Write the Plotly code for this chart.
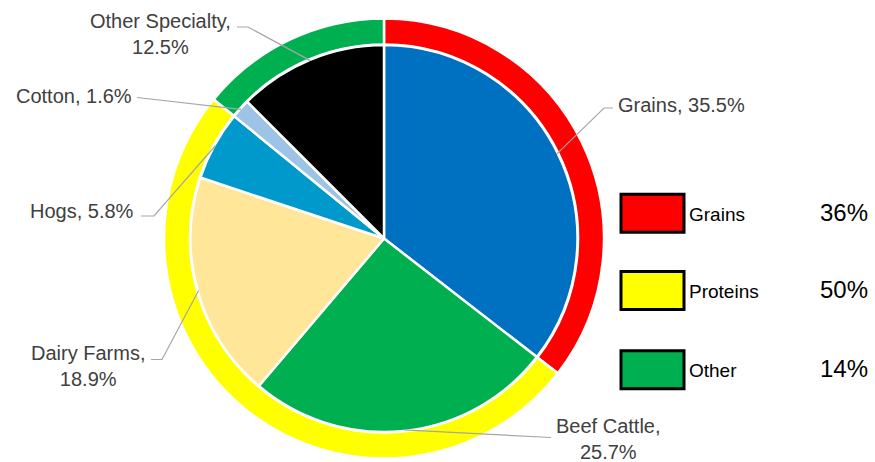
import math
import plotly.graph_objects as go

# ---- data -------------------------------------------------------------
sectors = ["Grains", "Beef Cattle", "Dairy Farms", "Hogs", "Cotton", "Other Specialty"]
shares = [35.5, 25.7, 18.9, 5.8, 1.6, 12.5]
sector_colors = ["#0070C0", "#00B050", "#FFE699", "#0099CC", "#9DC3E6", "#000000"]

groups = ["Grains", "Proteins", "Other"]
group_members = [["Grains"], ["Beef Cattle", "Dairy Farms", "Hogs"], ["Cotton", "Other Specialty"]]
group_colors = ["#FF0000", "#FFFF00", "#00B050"]
group_shares = [round(sum(shares[sectors.index(m)] for m in members), 1)
                for members in group_members]

# ---- layout constants (pixels) -----------------------------------------
W, H = 875, 462
CX, CY = 384, 238.5
R_RING = 220          # outer edge of the group ring
R_HOLE = 194          # inner edge of the group ring
R_PIE = 193.5         # sector pie radius
LABEL_FONT = dict(family="Liberation Sans, Arial, sans-serif", size=20, color="#404040")
LEADER_COLOR = "#A6A6A6"


def px(x):
    return x / W


def py(y):
    return 1 - y / H


def domain(r):
    return dict(x=[px(CX - r), px(CX + r)], y=[py(CY + r), py(CY - r)])


fig = go.Figure()

# outer ring: groups
fig.add_trace(go.Pie(
    labels=groups, values=group_shares, sort=False, direction="clockwise", rotation=0,
    hole=R_HOLE / R_RING, domain=domain(R_RING),
    marker=dict(colors=group_colors, line=dict(color="white", width=2.5)),
    textinfo="none", hoverinfo="label+percent", showlegend=False,
))

# inner pie: sectors
fig.add_trace(go.Pie(
    labels=sectors, values=shares, sort=False, direction="clockwise", rotation=0,
    domain=domain(R_PIE),
    marker=dict(colors=sector_colors, line=dict(color="white", width=2.5)),
    textinfo="none", hoverinfo="label+percent", showlegend=False,
))

# ---- data labels with leader lines ---------------------------------------
# per sector: annotation position/anchors, and leader path points (label side)
label_layout = {
    "Grains":          dict(x=616, y=105, xa="left", br=False, path=[(613, 108), (604, 108)]),
    "Beef Cattle":     dict(x=608, y=439, xa="center", br=True, path=[(551, 437.5)]),
    "Dairy Farms":     dict(x=88, y=366, xa="center", br=True, path=[(151, 359.5), (162, 359.5)]),
    "Hogs":            dict(x=136, y=211, xa="right", br=False, path=[(141, 216), (154, 216)]),
    "Cotton":          dict(x=134, y=96, xa="right", br=False, path=[(137, 97.5)]),
    "Other Specialty": dict(x=160, y=34, xa="center", br=True, path=[(237, 27), (248, 27)]),
}

total = sum(shares)
cum = 0.0
shapes = []
annotations = []
for name, v in zip(sectors, shares):
    frac = (cum + v / 2) / total
    cum += v
    theta = 2 * math.pi * frac
    ex = CX + (R_PIE - 1) * math.sin(theta)
    ey = CY - (R_PIE - 1) * math.cos(theta)
    spec = label_layout[name]
    pts = spec["path"] + [(ex, ey)]
    d = "M " + " L ".join(f"{px(x):.5f},{py(y):.5f}" for x, y in pts)
    shapes.append(dict(type="path", xref="paper", yref="paper", path=d,
                       line=dict(color=LEADER_COLOR, width=1.2)))
    sep = ",<br>" if spec["br"] else ", "
    annotations.append(dict(
        x=px(spec["x"]), y=py(spec["y"]), xref="paper", yref="paper",
        text=f"{name}{sep}{v}%", showarrow=False, xanchor=spec["xa"], yanchor="middle",
        align="center", font=LABEL_FONT,
    ))

# ---- group key (right side) ------------------------------------------------
KEY_X0, KEY_X1 = 621, 684
KEY_H = 38
key_centers = [213.3, 290.5, 369.7]
KEY_FONT = "Liberation Sans, Arial, sans-serif"
for g, v, c, yc in zip(groups, group_shares, group_colors, key_centers):
    shapes.append(dict(type="rect", xref="paper", yref="paper",
                       x0=px(KEY_X0), x1=px(KEY_X1), y0=py(yc + KEY_H / 2), y1=py(yc - KEY_H / 2),
                       fillcolor=c, line=dict(color="black", width=3)))
    annotations.append(dict(x=px(687), y=py(yc + 1), xref="paper", yref="paper", text=g,
                            showarrow=False, xanchor="left", yanchor="middle",
                            font=dict(family=KEY_FONT, size=19, color="black")))
    annotations.append(dict(x=px(870), y=py(yc - 1), xref="paper", yref="paper", text=f"{v:.0f}%",
                            showarrow=False, xanchor="right", yanchor="middle",
                            font=dict(family=KEY_FONT, size=24, color="black")))

fig.update_layout(
    width=W, height=H, margin=dict(l=0, r=0, t=0, b=0),
    paper_bgcolor="white", plot_bgcolor="white",
    shapes=shapes, annotations=annotations, showlegend=False,
)

fig.write_html("out.html")
